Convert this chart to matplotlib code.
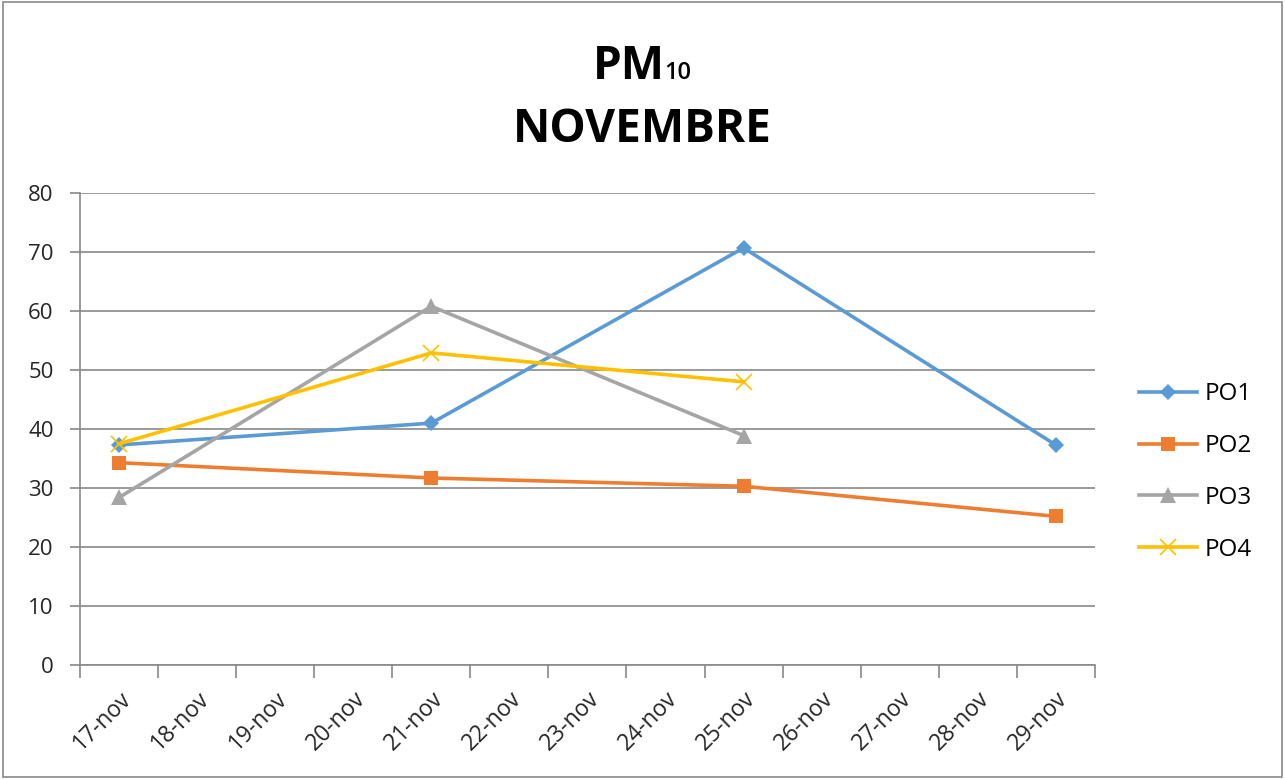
import numpy as np
from matplotlib import pyplot as plt
from matplotlib.patches import Rectangle

days = ["17-nov", "18-nov", "19-nov", "20-nov", "21-nov", "22-nov", "23-nov",
        "24-nov", "25-nov", "26-nov", "27-nov", "28-nov", "29-nov"]
sample_days = ["17-nov", "21-nov", "25-nov", "29-nov"]
po1 = [37.3, 41.0, 70.7, 37.3]
po2 = [34.3, 31.7, 30.3, 25.2]
po3 = [28.4, 60.8, 38.9]
po4 = [37.5, 52.9, 48.0]

series = [
    ("PO1", po1, "#5B9BD5", "D", 8),
    ("PO2", po2, "#ED7D31", "s", 10),
    ("PO3", po3, "#A5A5A5", "^", 11),
    ("PO4", po4, "#FFC000", "x", 11),
]

plt.rcParams["font.family"] = ["Open Sans", "DejaVu Sans"]

fig = plt.figure(figsize=(12.85, 7.79), dpi=100)
ax = fig.add_axes([0.0623, 0.1463, 0.7897, 0.6059])

for name, vals, color, marker, ms in series:
    xs = [days.index(d) for d in sample_days[:len(vals)]]
    ax.plot(xs, vals, color=color, lw=2.6, marker=marker, ms=ms,
            mew=1.2 if marker == "x" else 0, mec=color, label=name)

ax.set_xlim(-0.5, len(days) - 0.5)
ax.set_ylim(0, 80)
ax.set_yticks(np.arange(0, 81, 10))
ax.set_xticks(range(len(days)))
ax.set_xticklabels(days, rotation=45, ha="right", va="top",
                   rotation_mode="anchor", fontsize=16.5, color="#262626")
ax.set_xticks(np.arange(-0.5, len(days), 1), minor=True)
ax.tick_params(axis="x", which="major", length=0, pad=16)
ax.tick_params(axis="x", which="minor", length=9, color="#898989", width=1.2)
ax.tick_params(axis="y", length=7, color="#898989", width=1.2, labelsize=16,
               labelcolor="#262626", pad=12)

ax.grid(axis="y", color="#898989", lw=1.2)
ax.set_axisbelow(True)
for s in ["top", "right"]:
    ax.spines[s].set_visible(False)
for s in ["left", "bottom"]:
    ax.spines[s].set_color("#898989")
    ax.spines[s].set_linewidth(1.2)

# title: "PM" with a small subscript "10", then the month
fig.text(629 / 1285, 1 - 79 / 779, "PM", ha="center", va="baseline",
         fontsize=33, fontweight="bold")
fig.text(664 / 1285, 1 - 79 / 779, "10", ha="left", va="baseline",
         fontsize=17, fontweight="semibold")
fig.text(0.5, 1 - 142 / 779, "NOVEMBRE", ha="center", va="baseline",
         fontsize=33, fontweight="bold")

fig.legend(loc="center left", bbox_to_anchor=(0.886, 1 - 472 / 779), frameon=False,
           fontsize=17.5, handlelength=2.4, labelspacing=1.15, handletextpad=0.3,
           borderpad=0, borderaxespad=0)

fig.patches.append(Rectangle((0.002, 0.003), 0.996, 0.994, transform=fig.transFigure,
                             fill=False, ec="#898989", lw=1.2))

fig.savefig("out.png", dpi=100)
plt.close("all")
